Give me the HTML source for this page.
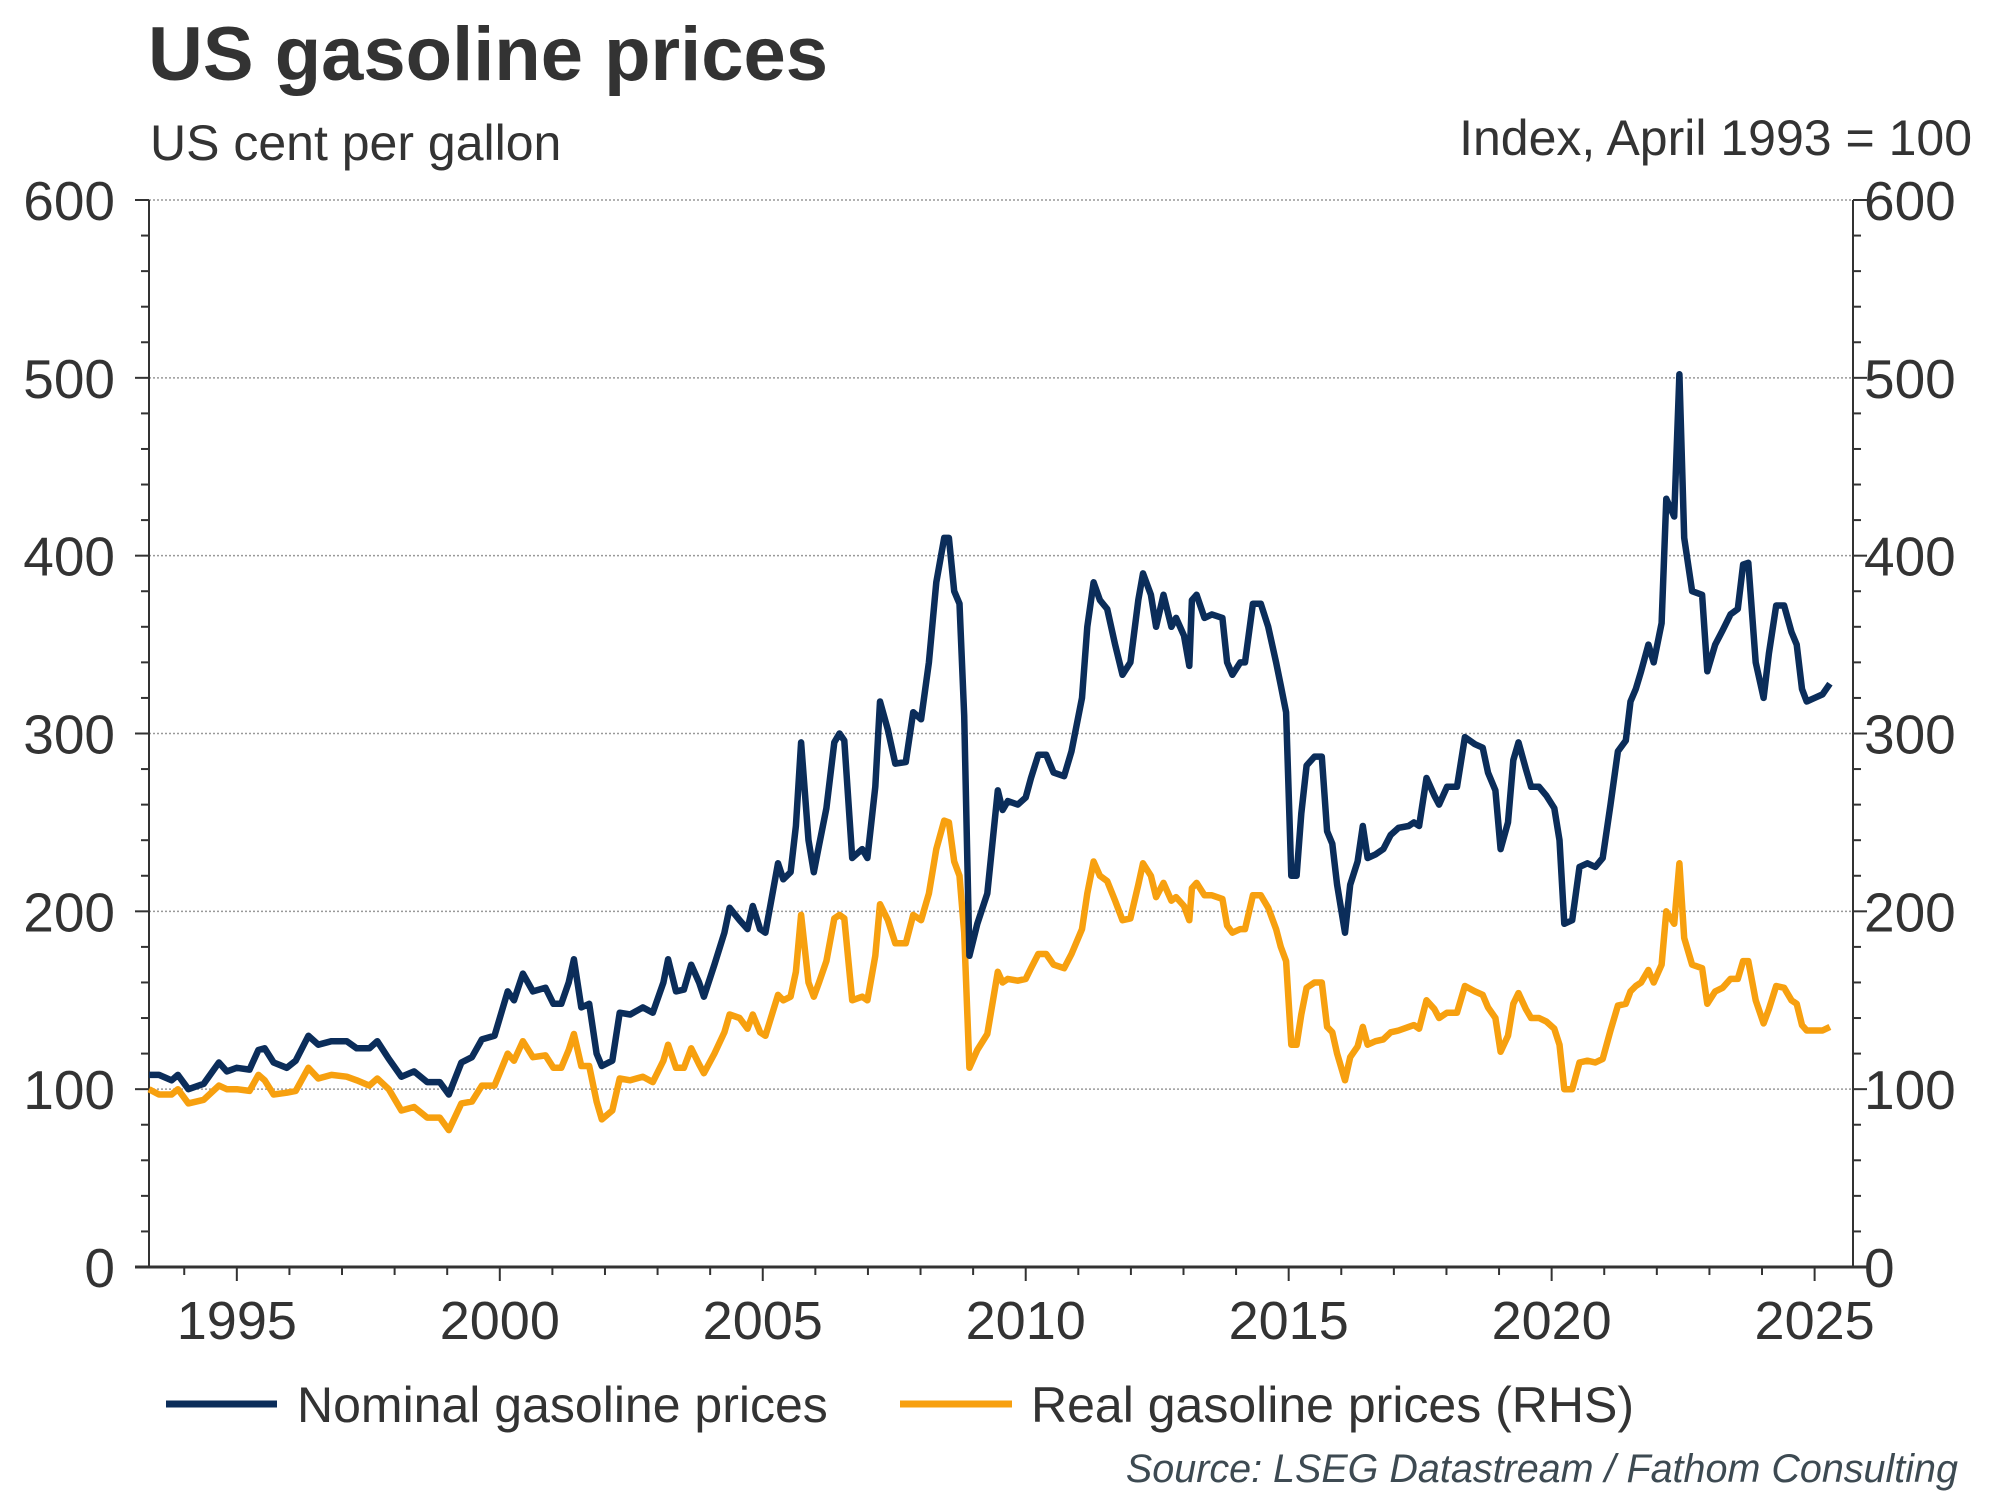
<!DOCTYPE html>
<html><head><meta charset="utf-8"><style>
html,body{margin:0;padding:0;background:#fff;}
svg{display:block;font-family:"Liberation Sans",Arial,sans-serif;}
</style></head><body>
<svg id="chart" width="2000" height="1500" viewBox="0 0 2000 1500" xmlns="http://www.w3.org/2000/svg">
<rect width="2000" height="1500" fill="#fff"/>
<text x="148" y="80" font-size="76" font-weight="bold" fill="#333">US gasoline prices</text>
<text x="150" y="160" font-size="50" fill="#333">US cent per gallon</text>
<text x="1972" y="155" font-size="50" fill="#333" text-anchor="end">Index, April 1993 = 100</text>
<g id="grid"></g><g id="axes"></g><g id="series"></g>
<g>
<line x1="166" y1="1404" x2="277" y2="1404" stroke="#0b2d5a" stroke-width="7"/>
<text x="297" y="1422" font-size="50" fill="#333">Nominal gasoline prices</text>
<line x1="900" y1="1404" x2="1012" y2="1404" stroke="#f7a00f" stroke-width="7"/>
<text x="1031" y="1422" font-size="50" fill="#333">Real gasoline prices (RHS)</text>
</g>
<text x="1958" y="1482" font-size="39.5" font-style="italic" fill="#3d4a52" text-anchor="end">Source: LSEG Datastream / Fathom Consulting</text>
</svg>
<script>
const dates=[1993.33,1993.52,1993.76,1993.88,1994.08,1994.37,1994.66,1994.81,1995.00,1995.24,1995.41,1995.53,1995.70,1995.95,1996.12,1996.36,1996.55,1996.80,1997.09,1997.28,1997.52,1997.67,1997.89,1998.13,1998.37,1998.62,1998.86,1999.03,1999.27,1999.47,1999.66,1999.90,2000.15,2000.27,2000.44,2000.63,2000.87,2001.02,2001.17,2001.31,2001.41,2001.55,2001.70,2001.84,2001.94,2002.14,2002.28,2002.48,2002.72,2002.91,2003.11,2003.20,2003.35,2003.50,2003.64,2003.79,2003.88,2004.08,2004.27,2004.37,2004.56,2004.71,2004.81,2004.95,2005.05,2005.29,2005.39,2005.53,2005.63,2005.73,2005.87,2005.97,2006.07,2006.21,2006.36,2006.46,2006.55,2006.70,2006.89,2006.99,2007.14,2007.23,2007.38,2007.52,2007.72,2007.86,2008.01,2008.16,2008.30,2008.45,2008.54,2008.64,2008.74,2008.83,2008.93,2009.08,2009.27,2009.47,2009.56,2009.66,2009.85,2010.00,2010.10,2010.24,2010.39,2010.53,2010.73,2010.87,2011.07,2011.17,2011.29,2011.41,2011.55,2011.70,2011.84,2011.99,2012.14,2012.23,2012.38,2012.48,2012.62,2012.77,2012.86,2013.01,2013.11,2013.16,2013.25,2013.40,2013.54,2013.74,2013.83,2013.93,2014.08,2014.17,2014.32,2014.47,2014.61,2014.76,2014.85,2014.95,2015.05,2015.15,2015.24,2015.34,2015.49,2015.63,2015.73,2015.83,2015.92,2016.07,2016.17,2016.31,2016.41,2016.50,2016.65,2016.80,2016.94,2017.09,2017.28,2017.38,2017.48,2017.62,2017.77,2017.86,2018.01,2018.20,2018.35,2018.54,2018.69,2018.79,2018.93,2019.03,2019.17,2019.27,2019.37,2019.51,2019.61,2019.76,2019.90,2020.05,2020.15,2020.24,2020.39,2020.53,2020.68,2020.83,2020.97,2021.12,2021.26,2021.41,2021.50,2021.60,2021.70,2021.84,2021.94,2022.09,2022.18,2022.33,2022.43,2022.52,2022.67,2022.86,2022.96,2023.11,2023.25,2023.40,2023.54,2023.64,2023.74,2023.88,2024.03,2024.13,2024.27,2024.42,2024.56,2024.66,2024.76,2024.85,2025.00,2025.15,2025.29];
const nominal=[108,108,105,108,100,103,115,110,112,111,122,123,115,112,116,130,125,127,127,123,123,127,117,107,110,104,104,97,115,118,128,130,155,150,165,155,157,148,148,160,173,146,148,120,113,116,143,142,146,143,160,173,155,156,170,160,152,170,188,202,195,190,203,190,188,227,218,222,248,295,240,222,237,258,295,300,296,230,235,230,270,318,302,283,284,312,308,340,385,410,410,380,373,310,175,193,210,268,257,262,260,264,275,288,288,278,276,290,320,360,385,375,370,350,333,340,375,390,378,360,378,360,365,355,338,375,378,365,367,365,340,333,340,340,373,373,360,340,327,312,220,220,255,282,287,287,245,238,215,188,215,228,248,230,232,235,243,247,248,250,248,275,265,260,270,270,298,294,292,278,268,235,250,285,295,280,270,270,265,258,240,193,195,225,227,225,230,260,290,296,318,325,335,350,340,362,432,422,502,410,380,378,335,350,358,367,370,395,396,340,320,345,372,372,357,350,325,318,320,322,328];
const real=[100,97,97,100,92,94,102,100,100,99,108,105,97,98,99,112,106,108,107,105,102,106,100,88,90,84,84,77,92,93,102,102,120,116,127,118,119,112,112,122,131,113,113,93,83,88,106,105,107,104,116,125,112,112,123,114,109,120,132,142,140,134,142,132,130,153,150,152,166,198,160,152,160,172,196,198,196,150,152,150,175,204,195,182,182,198,195,210,235,251,250,228,220,188,112,122,131,166,160,162,161,162,168,176,176,170,168,176,190,210,228,220,217,206,195,196,215,227,220,208,216,206,208,203,195,213,216,209,209,207,192,188,190,190,209,209,202,190,180,172,125,125,142,157,160,160,135,132,120,105,118,124,135,125,127,128,132,133,135,136,134,150,145,140,143,143,158,155,153,146,140,121,130,148,154,145,140,140,138,134,125,100,100,115,116,115,117,133,147,148,155,158,160,167,160,170,200,193,227,185,170,168,148,155,157,162,162,172,172,150,137,145,158,157,150,148,136,133,133,133,135];
const yTicks=[0,100,200,300,400,500,600];
const xTickYears=[1995,2000,2005,2010,2015,2020,2025];

const L=149,R=1853,T=200,B=1267,X0=1993.33,X1=2025.73;
const NS='http://www.w3.org/2000/svg';
const xs=v=>L+(v-X0)/(X1-X0)*(R-L);
const ys=v=>B-v/600*(B-T);
function mk(tag,attrs,parent,txt){const e=document.createElementNS(NS,tag);for(const k in attrs)e.setAttribute(k,attrs[k]);if(txt!==undefined)e.textContent=txt;parent.appendChild(e);return e;}
const grid=document.getElementById('grid'),axes=document.getElementById('axes'),ser=document.getElementById('series');
yTicks.forEach(v=>{
 if(v>0){const g=mk('line',{x1:L,x2:R,y1:ys(v),y2:ys(v),stroke:'#999','stroke-width':1.5,'stroke-dasharray':'2,2'},grid);
 
 }
 const tl=mk('text',{x:115,y:ys(v)+20,'font-size':55,fill:'#333','text-anchor':'end'},axes,v);
 
 
 const tr=mk('text',{x:1864,y:ys(v)+20,'font-size':55,fill:'#333'},axes,v);
 
 
});
for(let v=0;v<=600;v+=20){const big=v%100===0;
 mk('line',{x1:L-(big?14:8),x2:L,y1:ys(v),y2:ys(v),stroke:'#333','stroke-width':2},axes);
 mk('line',{x1:R,x2:R+(big?14:8),y1:ys(v),y2:ys(v),stroke:'#333','stroke-width':2},axes);}
const la=mk('line',{x1:L,x2:L,y1:T,y2:B,stroke:'#333','stroke-width':2},axes);


const ra=mk('line',{x1:R,x2:R,y1:T,y2:B,stroke:'#333','stroke-width':2},axes);


const xa=mk('line',{x1:L-14,x2:R+14,y1:B,y2:B,stroke:'#333','stroke-width':3},axes);


for(let y=1994;y<=2025;y++){const big=y%5===0;
 mk('line',{x1:xs(y),x2:xs(y),y1:B,y2:B+(big?14:8),stroke:'#333','stroke-width':2},axes);}
xTickYears.forEach(y=>{const t=mk('text',{x:xs(y),y:B+72,'font-size':54,fill:'#333','text-anchor':'middle'},axes,y);
 
 });
function line(vals,color,name){
 const d=vals.map((v,i)=>(i?'L':'M')+xs(dates[i]).toFixed(1)+','+ys(v).toFixed(1)).join('');
 const p=mk('path',{d:d,fill:'none',stroke:color,'stroke-width':6.5,'stroke-linejoin':'round'},ser);
 
 
}
line(real,'#f7a00f','real-price-line');
line(nominal,'#0b2d5a','nominal-price-line');
</script>
</body></html>
